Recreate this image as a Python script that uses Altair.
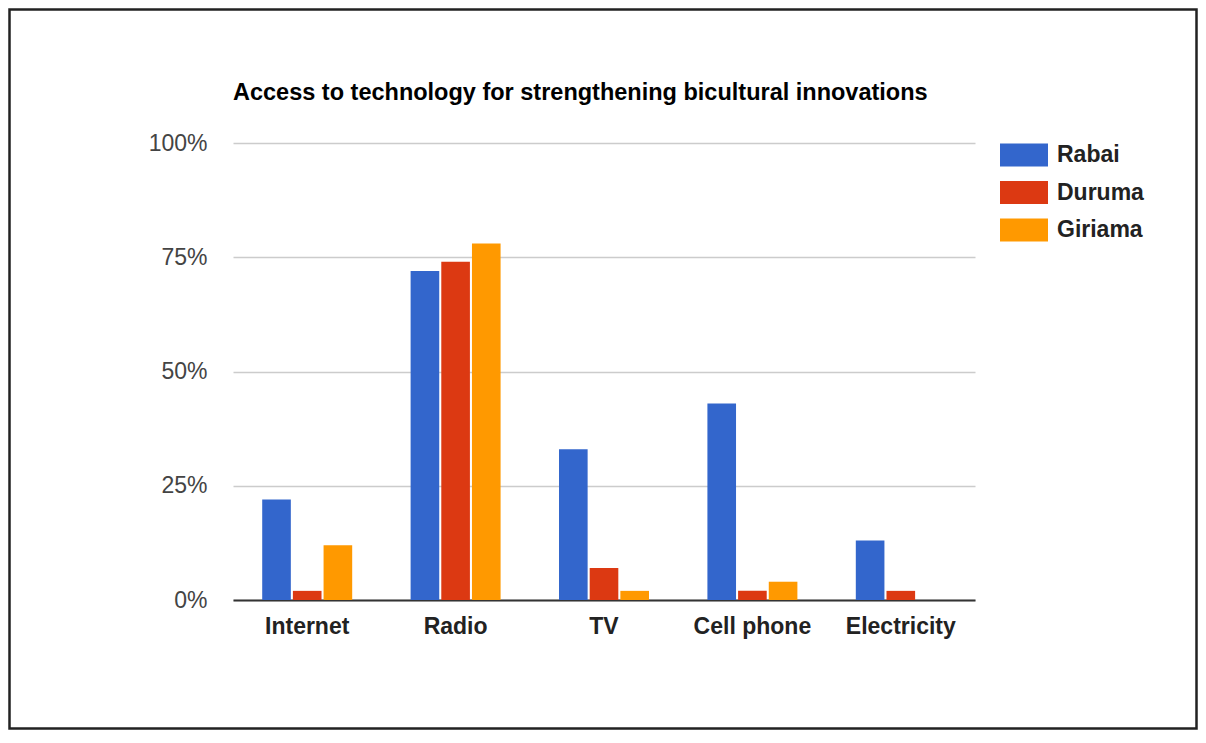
import altair as alt
import pandas as pd

categories = ["Internet", "Radio", "TV", "Cell phone", "Electricity"]
series = ["Rabai", "Duruma", "Giriama"]
rabai = [22, 72, 33, 43, 13]
duruma = [2, 74, 7, 2, 2]
giriama = [12, 78, 2, 4, 0]
colors = ["#3366cc", "#dc3912", "#ff9900"]
y_ticks = [0, 25, 50, 75, 100]
title_text = "Access to technology for strengthening bicultural innovations"

rows = []
for s, vals in zip(series, [rabai, duruma, giriama]):
    for c, v in zip(categories, vals):
        rows.append({"category": c, "group": s, "value": v})
df = pd.DataFrame(rows)

W, H = 742, 457
PL, PT, PR, PB = 225, 135, 223, 130
FONT = "Liberation Sans"

bars = alt.Chart(df).mark_bar().encode(
    x=alt.X("category:N", sort=categories, title=None,
            scale=alt.Scale(paddingInner=0.38, paddingOuter=0.19),
            axis=alt.Axis(labelAngle=0, labelFont=FONT, labelFontSize=23,
                          labelFontWeight="bold", labelColor="#222",
                          labelPadding=15, ticks=False, tickSize=0,
                          domainColor="#333", domainWidth=2, grid=False)),
    xOffset=alt.XOffset("group:N", sort=series,
                        scale=alt.Scale(paddingInner=0.067, paddingOuter=0.033)),
    y=alt.Y("value:Q", title=None,
            scale=alt.Scale(domain=[0, 100], nice=False),
            axis=alt.Axis(values=y_ticks, labelExpr="datum.value + '%'",
                          labelFont=FONT, labelFontSize=23, labelColor="#444",
                          labelPadding=26, ticks=False, tickSize=0, domain=False,
                          gridColor="#cccccc", gridWidth=1.5)),
    color=alt.Color("group:N", sort=series,
                    scale=alt.Scale(domain=series, range=colors),
                    legend=alt.Legend(title=None, orient="none", legendX=767, legendY=-12,
                                      symbolType="M-1,-0.48H1V0.48H-1Z", symbolSize=2304,
                                      symbolStrokeWidth=0, symbolOpacity=1,
                                      labelFont=FONT, labelFontSize=23,
                                      labelFontWeight="bold", labelColor="#222",
                                      labelOffset=9, rowPadding=1.5)),
)

border = alt.Chart(alt.Data(values=[{}])).mark_rect(
    filled=False, stroke="#222", strokeWidth=2.5
).encode(
    x=alt.value(-PL + 1.5), x2=alt.value(W + PR - 1.5),
    y=alt.value(-PT + 1.5), y2=alt.value(H + PB - 1.5),
)

chart = alt.layer(bars, border).properties(
    width=W, height=H,
    background="white",
    title=alt.TitleParams(title_text, anchor="start", frame="group",
                          font=FONT, fontSize=23.5, fontWeight="bold", color="#000",
                          baseline="alphabetic", offset=-114.75),
    autosize=alt.AutoSizeParams(type="none"),
    padding={"left": PL, "top": PT, "right": PR, "bottom": PB},
).configure_view(strokeWidth=0, stroke="transparent")

chart.save("out.html", embed_options={"renderer": "svg", "actions": False})
